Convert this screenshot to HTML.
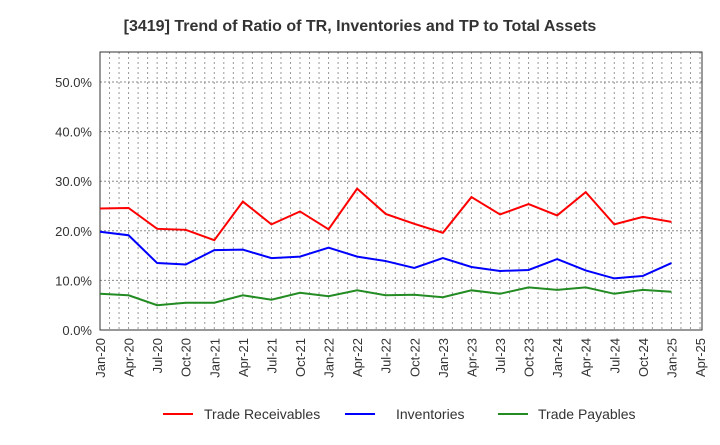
<!DOCTYPE html>
<html><head><meta charset="utf-8"><style>
body{margin:0;background:#fff;font-family:"Liberation Sans",sans-serif}
svg text{font-family:"Liberation Sans",sans-serif}
</style></head><body>
<svg id="c" width="720" height="440">
<text x="360" y="31" text-anchor="middle" font-size="16" font-weight="bold" fill="#333">[3419]  Trend of Ratio of TR, Inventories and TP to Total Assets</text>
<g id="grid"></g><g id="axes"></g><g id="series"></g>
<g>
<line x1="163" y1="414" x2="193" y2="414" stroke="#f00" stroke-width="2"/><text x="204" y="419" font-size="14" fill="#333">Trade Receivables</text>
<line x1="345" y1="414" x2="375" y2="414" stroke="#00f" stroke-width="2"/><text x="396" y="419" font-size="14" fill="#333">Inventories</text>
<line x1="498" y1="414" x2="528" y2="414" stroke="#228b22" stroke-width="2"/><text x="538" y="419" font-size="14" fill="#333">Trade Payables</text>
</g>
</svg>
<script>
const xLabels=["Jan-20","Apr-20","Jul-20","Oct-20","Jan-21","Apr-21","Jul-21","Oct-21","Jan-22","Apr-22","Jul-22","Oct-22","Jan-23","Apr-23","Jul-23","Oct-23","Jan-24","Apr-24","Jul-24","Oct-24","Jan-25","Apr-25"];
const yTicks=[0,10,20,30,40,50];
const tradeReceivables=[24.5,24.6,20.4,20.2,18.1,25.9,21.3,23.9,20.3,28.5,23.4,21.4,19.6,26.8,23.3,25.4,23.1,27.8,21.3,22.8,21.8];
const inventories=[19.8,19.1,13.5,13.2,16.1,16.2,14.5,14.8,16.6,14.8,13.9,12.5,14.5,12.7,11.9,12.1,14.3,12.0,10.4,10.9,13.5];
const tradePayables=[7.3,7.0,5.0,5.5,5.5,7.0,6.1,7.5,6.8,8.0,7.0,7.1,6.6,8.0,7.3,8.6,8.1,8.6,7.3,8.1,7.7];
const L=100,R=702,T=52,B=330,NS="http://www.w3.org/2000/svg";
const qw=(700-L)/(xLabels.length-1);
const xs=i=>L+i*qw, ys=v=>B-v*(B-82)/50;
function mk(p,t,a){const e=document.createElementNS(NS,t);for(const k in a)e.setAttribute(k,a[k]);document.getElementById(p).appendChild(e);return e;}
for(let m=1;m<(xLabels.length-1)*3+1;m++){const x=L+m*qw/3;if(x<R){const l=mk('grid','line',{x1:x,y1:T,x2:x,y2:B,stroke:'#999','stroke-dasharray':'2,3','stroke-width':1});

}}
yTicks.forEach(v=>{if(v>0){const l=mk('grid','line',{x1:L,y1:ys(v),x2:R,y2:ys(v),stroke:'#888','stroke-dasharray':'2,2','stroke-width':1});

}
const t=mk('axes','text',{x:L-8,y:ys(v)+5,'text-anchor':'end','font-size':13,fill:'#333'});t.textContent=v.toFixed(1)+'%';

});
const fr=mk('axes','rect',{x:L,y:T,width:R-L,height:B-T,fill:'none',stroke:'#333','stroke-width':1});


xLabels.forEach((s,i)=>{const x=xs(i);const t=mk('axes','text',{x:x+5,y:B+8,'text-anchor':'end','font-size':13,fill:'#333',transform:`rotate(-90 ${x+5} ${B+8})`});t.textContent=s;

});
[[tradeReceivables,'#f00','trade-receivables-line'],[inventories,'#00f','inventories-line'],[tradePayables,'#228b22','trade-payables-line']].forEach(([d,c,n])=>{
const p=mk('series','polyline',{points:d.map((v,i)=>xs(i)+','+ys(v)).join(' '),fill:'none',stroke:c,'stroke-width':2});

});
</script>
</body></html>
